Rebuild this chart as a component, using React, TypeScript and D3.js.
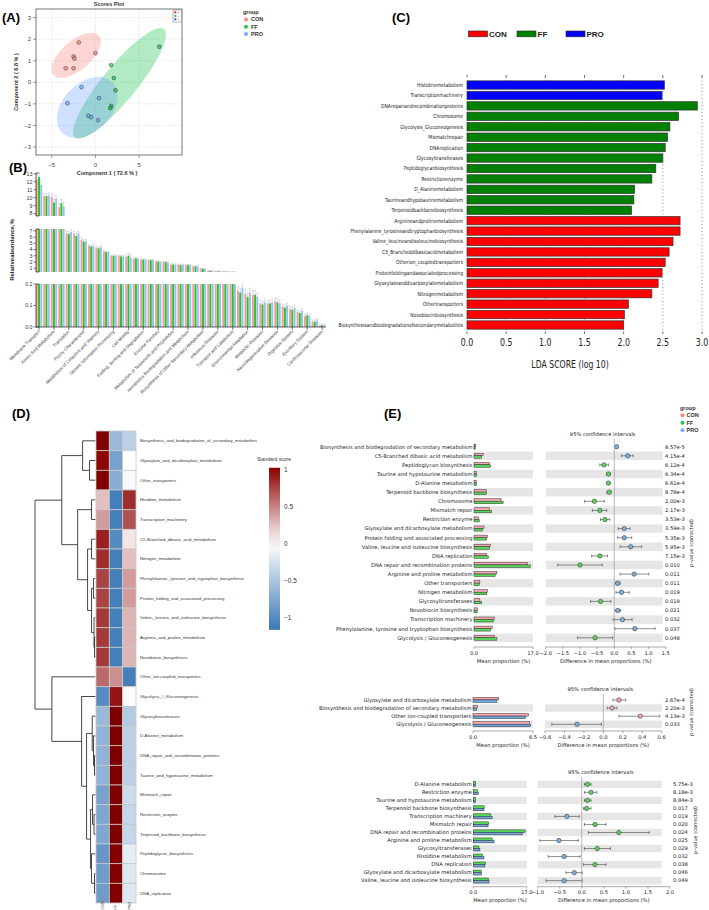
import * as d3 from 'd3';

const SANS = '"Liberation Sans", Arial, sans-serif';
const DV = '"DejaVu Sans", sans-serif';
const MINUS = (s: string) => s.replace('-', '\u2212');

// ---------- shared
const groups = ['CON', 'FF', 'PRO'];
const groupColors = ['#F8766D', '#00BA38', '#619CFF'];

// ---------- (A) PLS-DA scores
const pcaCon = [[-1.9, 1.85], [-2.5, 1.2], [-2.4, 1.1], [0, 1.35], [-3.4, 0.65], [-2.5, 0.65]];
const pcaFF = [[7.3, 1.65], [1.8, 0.8], [2.1, 0.2], [2.3, -0.37], [1.8, -1.1], [1.7, -1.2]];
const pcaPro = [[-1.6, -0.22], [-3.2, -0.97], [0.4, -0.73], [-0.8, -1.55], [-0.5, -1.62], [0.3, -1.75]];
// cx, cy, semi-major, semi-minor, angle (deg)
const pcaEllipses = [[-2.2, 1.25, 2.9, 0.8, 14], [2.75, -0.05, 5.8, 1.1, 24], [-0.95, -1.17, 3.5, 1.3, 10]];
const pcaTicksX = [-5, 0, 5];
const pcaTicksY = [-3, -2, -1, 0, 1, 2, 3];

// ---------- (B) KEGG level 2 relative abundance
const keggNames = [
  'Membrane Transport', 'Carbohydrate Metabolism', 'Amino Acid Metabolism', 'Replication and Repair',
  'Translation', 'Energy Metabolism', 'Poorly Characterized', 'Nucleotide Metabolism',
  'Metabolism of Cofactors and Vitamins', 'Cellular Processes and Signaling', 'Genetic Information Processing',
  'Lipid Metabolism', 'Cell Motility', 'Transcription', 'Folding, Sorting and Degradation',
  'Glycan Biosynthesis and Metabolism', 'Enzyme Families', 'Metabolism of Other Amino Acids',
  'Metabolism of Terpenoids and Polyketides', 'Signal Transduction', 'Xenobiotics Biodegradation and Metabolism',
  'Metabolism', 'Biosynthesis of Other Secondary Metabolites', 'Cell Growth and Death', 'Infectious Diseases',
  'Endocrine System', 'Transport and Catabolism', 'Cancers', 'Environmental Adaptation', 'Immune System',
  'Metabolic Diseases', 'Nervous System', 'Neurodegenerative Diseases', 'Signaling Molecules and Interaction',
  'Digestive System', 'Immune System Diseases', 'Excretory System', 'Circulatory System', 'Cardiovascular Diseases',
];
const bCon = [12.3, 10.2, 10.1, 8.8, 6.6, 6.5, 5.6, 4.6, 4.3, 3.7, 3.0, 3.0, 2.8, 2.5, 2.4, 2.3, 2.1, 2.0, 1.6, 1.6,
  1.5, 1.3, 0.95, 0.65, 0.55, 0.46, 0.43, 0.17, 0.155, 0.15, 0.11, 0.11, 0.12, 0.095, 0.085, 0.07, 0.05, 0.025, 0.008];
const bFF = [12.6, 10.2, 9.4, 9.3, 6.5, 6.2, 5.3, 4.5, 4.2, 3.6, 3.0, 2.9, 3.0, 2.6, 2.4, 2.3, 2.1, 2.0, 1.6, 1.5,
  1.5, 1.3, 0.9, 0.6, 0.5, 0.45, 0.42, 0.16, 0.14, 0.15, 0.105, 0.11, 0.115, 0.09, 0.08, 0.065, 0.055, 0.025, 0.008];
const bPro = [11.6, 10.3, 9.9, 8.9, 6.8, 6.6, 5.3, 4.6, 4.4, 3.6, 3.0, 2.9, 2.7, 2.5, 2.4, 2.3, 2.0, 1.9, 1.6, 1.6,
  1.5, 1.3, 0.9, 0.6, 0.55, 0.46, 0.43, 0.18, 0.16, 0.14, 0.115, 0.115, 0.11, 0.1, 0.09, 0.075, 0.05, 0.03, 0.008];
const bErr = [0.6, 0.3, 0.4, 0.5, 0.4, 0.4, 0.3, 0.25, 0.25, 0.15, 0.15, 0.15, 0.45, 0.12, 0.1, 0.1, 0.1, 0.15, 0.1, 0.1,
  0.1, 0.08, 0.06, 0.05, 0.04, 0.03, 0.03, 0.02, 0.02, 0.02, 0.015, 0.015, 0.015, 0.012, 0.012, 0.01, 0.01, 0.008, 0.005];
const bTicksTop = [8, 9, 10, 11, 12, 13];
const bTicksMid = [1, 2, 3, 4, 5, 6, 7];
const bTicksLow = [0, 0.1, 0.2];
const bColors = ['#f59c9c', '#2cc22c', '#96c0f2'];

// ---------- (C) LEfSe LDA
const ldaNames = [
  'Histidinemetabolism', 'Transcriptionmachinery', 'DNArepairandrecombinationproteins', 'Chromosome',
  'Glycolysis_Gluconeogenesis', 'Mismatchrepair', 'DNAreplication', 'Glycosyltransferases',
  'Peptidoglycanbiosynthesis', 'Restrictionenzyme', 'D_Alaninemetabolism', 'Taurineandhypotaurinemetabolism',
  'Terpenoidbackbonebiosynthesis', 'Arginineandprolinemetabolism', 'Phenylalanine_tyrosineandtryptophanbiosynthesis',
  'Valine_leucineandisoleucinebiosynthesis', 'C5_Brancheddibasicacidmetabolism', 'Otherion_coupledtransporters',
  'Proteinfoldingandassociatedprocessing', 'Glyoxylateanddicarboxylatemetabolism', 'Nitrogenmetabolism',
  'Othertransporters', 'Novobiocinbiosynthesis', 'Biosynthesisandbiodegradationofsecondarymetabolites',
];
const ldaScores = [2.52, 2.49, 2.94, 2.70, 2.59, 2.56, 2.53, 2.50, 2.41, 2.36, 2.14, 2.13, 2.10,
  2.72, 2.72, 2.63, 2.58, 2.53, 2.49, 2.44, 2.36, 2.06, 2.01, 2.00];
const ldaGroup = ['PRO', 'PRO', 'FF', 'FF', 'FF', 'FF', 'FF', 'FF', 'FF', 'FF', 'FF', 'FF', 'FF',
  'CON', 'CON', 'CON', 'CON', 'CON', 'CON', 'CON', 'CON', 'CON', 'CON', 'CON'];
const ldaColors: Record<string, string> = { CON: '#ff0000', FF: '#008000', PRO: '#0000ff' };
const ldaTicks = [0, 0.5, 1, 1.5, 2, 2.5, 3];

// ---------- (D) heatmap
const heatRows = [
  'Biosynthesis_and_biodegradation_of_secondary_metabolites', 'Glyoxylate_and_dicarboxylate_metabolism',
  'Other_transporters', 'Histidine_metabolism', 'Transcription_machinery', 'C5-Branched_dibasic_acid_metabolism',
  'Nitrogen_metabolism', 'Phenylalanine,_tyrosine_and_tryptophan_biosynthesis', 'Protein_folding_and_associated_processing',
  'Valine,_leucine_and_isoleucine_biosynthesis', 'Arginine_and_proline_metabolism', 'Novobiocin_biosynthesis',
  'Other_ion-coupled_transporters', 'Glycolysis_/_Gluconeogenesis', 'Glycosyltransferases', 'D-Alanine_metabolism',
  'DNA_repair_and_recombination_proteins', 'Taurine_and_hypotaurine_metabolism', 'Mismatch_repair',
  'Restriction_enzyme', 'Terpenoid_backbone_biosynthesis', 'Peptidoglycan_biosynthesis', 'Chromosome', 'DNA_replication',
];
const heatCon = [1.1, 1.0, 1.1, 0.25, 0.4, 0.9, 0.85, 0.75, 0.75, 0.8, 0.8, 0.8, 0.6, -1.0,
  -0.6, -0.65, -0.65, -0.65, -0.8, -0.75, -0.75, -0.9, -0.85, -0.85];
const heatFF = [-0.6, -0.8, -0.7, -1.1, -1.1, -1.0, -1.1, -1.1, -1.1, -1.1, -1.1, -1.1, 0.45, 0.95,
  1.15, 1.15, 1.15, 1.15, 1.15, 1.15, 1.15, 1.1, 1.1, 1.1];
const heatPro = [-0.4, 0.0, -0.05, 0.85, 0.7, 0.1, 0.25, 0.4, 0.4, 0.3, 0.3, 0.3, -1.1, 0.02,
  -0.45, -0.4, -0.4, -0.4, -0.3, -0.35, -0.35, -0.15, -0.2, -0.2];
// [height, left, right], leaves are row indices
type Tree = number | [number, Tree, Tree];
const dendro: Tree = [6.1,
  [3.4, [1.3, 0, [0.6, 1, 2]],
    [1.8, [0.4, 3, 4], [0.8, [0.4, 5, 6], [0.4, [0.2, 7, 8], [0.15, 9, [0.1, 10, 11]]]]]],
  [4.4, 12, [1.4, 13, [0.9, [0.33, 14, [0.2, 15, [0.1, 16, 17]]],
    [0.5, [0.3, 18, [0.15, 19, 20]], [0.4, 21, [0.1, 22, 23]]]]]]];
const heatLegendTicks = [1, 0.5, 0, -0.5, -1];

// ---------- (E) STAMP
const e1Rows = ['Biosynthesis and biodegradation of secondary metabolism', 'C5-Branched dibasic acid metabolism',
  'Peptidoglycan biosynthesis', 'Taurine and hypotaurine metabolism', 'D-Alanine metabolism',
  'Terpenoid backbone biosynthesis', 'Chromosome', 'Mismatch repair', 'Restriction enzyme',
  'Glyoxylate and dicarboxylate metabolism', 'Protein folding and associated processing',
  'Valine, leucine and isoleucine biosynthesis', 'DNA replication', 'DNA repair and recombination proteins',
  'Arginine and proline metabolism', 'Other transporters', 'Nitrogen metabolism', 'Glycosyltransferases',
  'Novobiocin biosynthesis', 'Transcription machinery', 'Phenylalanine, tyrosine and tryptophan biosynthesis',
  'Glycolysis / Gluconeogenesis'];
const e1Con = [0.5, 2.7, 4.4, 0.7, 0.7, 3.5, 7.8, 4.5, 1.3, 2.9, 3.9, 4.8, 3.6, 15.4, 6.6, 1.7, 3.9, 1.7, 1.0, 5.9, 5.3, 5.9];
const e1FF = [0.35, 2.2, 4.8, 0.75, 0.75, 3.6, 8.4, 5.0, 1.5, 2.5, 3.6, 4.5, 4.1, 16.2, 6.1, 1.5, 3.7, 2.2, 0.9, 5.6, 4.8, 6.6];
const e1Diff = [0.07, 0.39, -0.30, -0.17, -0.17, -0.15, -0.58, -0.42, -0.27, 0.29, 0.29, 0.48, -0.42, -1.0,
  0.58, 0.10, 0.21, -0.40, 0.10, 0.24, 0.60, -0.56];
const e1Lo = [0.04, 0.21, -0.42, -0.22, -0.21, -0.21, -0.87, -0.64, -0.40, 0.12, 0.10, 0.17, -0.66, -1.65,
  0.17, 0.03, 0.05, -0.69, 0.03, -0.03, 0.02, -1.07];
const e1Hi = [0.10, 0.55, -0.17, -0.12, -0.13, -0.09, -0.29, -0.22, -0.13, 0.46, 0.51, 0.80, -0.20, -0.35,
  1.01, 0.17, 0.44, -0.10, 0.18, 0.52, 1.19, -0.05];
const e1P = ['8.57e-5', '4.15e-4', '6.12e-4', '6.34e-4', '6.61e-4', '8.78e-4', '2.00e-3', '2.17e-3', '3.53e-3',
  '3.59e-3', '5.35e-3', '5.95e-3', '7.15e-3', '0.010', '0.011', '0.011', '0.019', '0.019', '0.021', '0.032', '0.037', '0.048'];
const e1Ticks = [-2, -1.5, -1, -0.5, 0, 0.5, 1, 1.5];

const e2Rows = ['Glyoxylate and dicarboxylate metabolism', 'Biosynthesis and biodegradation of secondary metabolism',
  'Other ion-coupled transporters', 'Glycolysis / Gluconeogenesis'];
const e2Con = [2.79, 0.47, 6.0, 6.1];
const e2Pro = [2.6, 0.4, 5.7, 6.25];
const e2Diff = [0.16, 0.09, 0.38, -0.27];
const e2Lo = [0.10, 0.04, 0.16, -0.53];
const e2Hi = [0.23, 0.14, 0.58, -0.02];
const e2P = ['2.67e-4', '2.20e-3', '4.13e-3', '0.033'];
const e2Ticks = [-0.6, -0.4, -0.2, 0, 0.2, 0.4, 0.6];

const e3Rows = ['D-Alanine metabolism', 'Restriction enzyme', 'Taurine and hypotaurine metabolism',
  'Terpenoid backbone biosynthesis', 'Transcription machinery', 'Mismatch repair', 'DNA repair and recombination proteins',
  'Arginine and proline metabolism', 'Glycosyltransferases', 'Histidine metabolism', 'DNA replication',
  'Glyoxylate and dicarboxylate metabolism', 'Valine, leucine and isoleucine biosynthesis'];
const e3FF = [0.75, 1.3, 0.75, 3.5, 5.6, 4.9, 16.5, 6.0, 1.8, 2.9, 3.9, 2.5, 4.8];
const e3Pro = [0.7, 1.6, 0.7, 3.4, 6.0, 4.7, 15.6, 6.6, 2.1, 3.4, 3.7, 2.6, 5.0];
const e3Diff = [0.13, 0.21, 0.13, 0.11, -0.34, 0.30, 0.84, -0.52, 0.35, -0.40, 0.30, -0.17, -0.40];
const e3Lo = [0.06, 0.06, 0.06, 0.04, -0.61, 0.06, 0.15, -0.95, 0.06, -0.76, 0.04, -0.36, -0.81];
const e3Hi = [0.21, 0.34, 0.21, 0.21, -0.06, 0.55, 1.53, -0.08, 0.65, -0.04, 0.55, 0.01, 0.01];
const e3P = ['5.75e-3', '8.18e-3', '8.84e-3', '0.017', '0.019', '0.020', '0.024', '0.025', '0.029', '0.032',
  '0.038', '0.046', '0.049'];
const e3Ticks = [-1, -0.5, 0, 0.5, 1, 1.5, 2];

const stampColors: Record<string, string> = { CON: '#f4a6b2', FF: '#58d658', PRO: '#6fa8dc' };

function PanelLabel({ x, y, t }: { x: number; y: number; t: string }) {
  return <text x={x} y={y} fontSize={13} fontWeight="bold" fontFamily={SANS}>{t}</text>;
}

function PanelA() {
  const x = d3.scaleLinear().domain([-6.8, 9.9]).range([36, 182]);
  const y = d3.scaleLinear().domain([-3.37, 3.4]).range([155, 9]);
  const ells = pcaEllipses.map(([cx, cy, a, b, deg]) => {
    const t = (deg * Math.PI) / 180;
    const pts = d3.range(0, 360, 4).map((k) => {
      const f = (k * Math.PI) / 180;
      return [
        x(cx + a * Math.cos(f) * Math.cos(t) - b * Math.sin(f) * Math.sin(t)),
        y(cy + a * Math.cos(f) * Math.sin(t) + b * Math.sin(f) * Math.cos(t)),
      ] as [number, number];
    });
    return d3.line()(pts) + 'Z';
  });
  const sets = [pcaCon, pcaFF, pcaPro];
  const innerCols = ['#e0204a', '#20c040', '#3050e0'];
  return (
    <g fontFamily={SANS}>
      <PanelLabel x={2} y={22} t="(A)" />
      <text x={109} y={6} fontSize={5.5} fontWeight="bold" textAnchor="middle" fill="#333">Scores Plot</text>
      <rect x={36} y={9} width={146} height={146} fill="#fff" />
      {pcaTicksX.map((t) => (
        <line key={'gx' + t} x1={x(t)} x2={x(t)} y1={9} y2={155} stroke="#ccc" strokeWidth={0.5} strokeDasharray="1.5,1.5" />
      ))}
      {pcaTicksY.map((t) => (
        <line key={'gy' + t} x1={36} x2={182} y1={y(t)} y2={y(t)} stroke="#ccc" strokeWidth={0.5} strokeDasharray="1.5,1.5" />
      ))}
      {ells.map((d, i) => (
        <path key={'e' + i} d={d} fill={groupColors[i]} fillOpacity={0.3} stroke="none" />
      ))}
      {sets.map((s, gi) =>
        s.map((p, i) => (
          <circle key={gi + '-' + i} cx={x(p[0])} cy={y(p[1])} r={1.9} fill={groupColors[gi]} fillOpacity={0.6} stroke="#333" strokeWidth={0.5} />
        )),
      )}
      <rect x={36} y={9} width={146} height={146} fill="none" stroke="#555" strokeWidth={0.8} />
      {pcaTicksX.map((t) => (
        <g key={'tx' + t}>
          <line x1={x(t)} x2={x(t)} y1={155} y2={158} stroke="#555" strokeWidth={0.6} />
          <text x={x(t)} y={167} fontSize={6} textAnchor="middle" fill="#444">{MINUS(String(t))}</text>
        </g>
      ))}
      {pcaTicksY.map((t) => (
        <g key={'ty' + t}>
          <line x1={33} x2={36} y1={y(t)} y2={y(t)} stroke="#555" strokeWidth={0.6} />
          <text x={31} y={y(t)} dy="0.35em" fontSize={6} textAnchor="end" fill="#444">{MINUS(String(t))}</text>
        </g>
      ))}
      <text x={107} y={175} fontSize={5.5} fontWeight="bold" textAnchor="middle" fill="#333">Component 1 ( 72.6 % )</text>
      <text transform="translate(18,82) rotate(-90)" fontSize={5.5} fontWeight="bold" textAnchor="middle" fill="#333">Component 2 ( 6.8 % )</text>
      <rect x={173} y={10} width={8.5} height={12} fill="#fff" stroke="#555" strokeWidth={0.4} />
      {groups.map((g, i) => (
        <g key={'il' + g}>
          <rect x={174.3} y={11.3 + i * 3.5} width={2} height={2} fill={innerCols[i]} />
          <text x={177.5} y={13.2 + i * 3.5} fontSize={2.4} fill="#333">{g[0]}</text>
        </g>
      ))}
      <text x={243} y={14} fontSize={5.5} fontWeight="bold" fill="#333">group</text>
      {groups.map((g, i) => (
        <g key={'lg' + g}>
          <circle cx={246} cy={19.5 + i * 7.3} r={2.1} fill={groupColors[i]} fillOpacity={0.8} />
          <text x={251} y={21.3 + i * 7.3} fontSize={5.5} fontWeight="bold" fill="#333">{g}</text>
        </g>
      ))}
    </g>
  );
}

function PanelB() {
  const x = d3.scaleBand().domain(keggNames).range([35.3, 325.85]);
  const sub = d3.scaleBand().domain(groups).range([0.55, 6.95]).paddingInner(0.12);
  const bw = sub.bandwidth();
  const segs = [
    { y: d3.scaleLinear().domain([7.7, 13.1]).range([216, 173]), ticks: bTicksTop, fmt: d3.format('d') },
    { y: d3.scaleLinear().domain([0.4, 7.3]).range([272, 229]), ticks: bTicksMid, fmt: d3.format('d') },
    { y: d3.scaleLinear().domain([0, 0.2]).range([327, 284]), ticks: bTicksLow, fmt: d3.format('.1f') },
  ];
  const series = [bCon, bFF, bPro];
  const marks: JSX.Element[] = [];
  segs.forEach((s, si) => {
    const [lo, hi] = s.y.domain();
    keggNames.forEach((name, i) => {
      series.forEach((vals, gi) => {
        const v = vals[i];
        if (v <= lo) return;
        const bx = (x(name) as number) + (sub(groups[gi]) as number);
        const top = s.y(Math.min(v, hi));
        marks.push(<rect key={`b${si}-${i}-${gi}`} x={bx} y={top} width={bw} height={s.y(lo) - top} fill={bColors[gi]} />);
        if (v < hi) {
          const e = s.y(Math.min(v + bErr[i], hi));
          marks.push(
            <g key={`e${si}-${i}-${gi}`} stroke="#b8b8b8" strokeWidth={0.5}>
              <line x1={bx + bw / 2} x2={bx + bw / 2} y1={top} y2={e} />
              <line x1={bx} x2={bx + bw} y1={e} y2={e} />
            </g>,
          );
        }
      });
    });
  });
  return (
    <g fontFamily={SANS}>
      <PanelLabel x={9} y={172} t="(B)" />
      {marks}
      {segs.map((s, si) => {
        const [r0, r1] = s.y.range();
        return (
          <g key={'ax' + si}>
            <line x1={36} x2={36} y1={r0} y2={r1} stroke="#222" strokeWidth={0.7} />
            <line x1={36} x2={39} y1={r0} y2={r0} stroke="#222" strokeWidth={0.7} />
            <line x1={36} x2={39} y1={r1} y2={r1} stroke="#222" strokeWidth={0.7} />
            {s.ticks.map((t) => (
              <g key={t}>
                <line x1={33.5} x2={36} y1={s.y(t)} y2={s.y(t)} stroke="#222" strokeWidth={0.6} />
                <text x={32.5} y={s.y(t)} dy="0.35em" fontSize={5.3} textAnchor="end" fill="#333">{s.fmt(t)}</text>
              </g>
            ))}
          </g>
        );
      })}
      <line x1={36} x2={326} y1={327} y2={327} stroke="#222" strokeWidth={0.7} />
      {keggNames.map((n, i) =>
        i % 2 === 0 ? (
          <g key={'xl' + i}>
            <line x1={(x(n) as number) + x.bandwidth() / 2} x2={(x(n) as number) + x.bandwidth() / 2} y1={327} y2={330} stroke="#222" strokeWidth={0.6} />
            <text transform={`translate(${(x(n) as number) + x.bandwidth() / 2 + 1},${332}) rotate(-45)`} fontSize={4.4} textAnchor="end" fill="#333">{n}</text>
          </g>
        ) : null,
      )}
      <text transform="translate(14,250) rotate(-90)" fontSize={6} fontWeight="bold" textAnchor="middle" fill="#222">Relativeabundance,%</text>
    </g>
  );
}

function PanelC() {
  const x = d3.scaleLinear().domain([0, 3]).range([467, 702]);
  const y = d3.scaleBand().domain(ldaNames).range([79.8, 330.2]).paddingInner(0.2).paddingOuter(0.1);
  return (
    <g>
      <PanelLabel x={392} y={22} t="(C)" />
      {['CON', 'FF', 'PRO'].map((g, i) => {
        const lx = [468.5, 517, 566][i];
        return (
          <g key={'cl' + g} fontFamily={SANS}>
            <rect x={lx} y={31} width={19} height={5.8} fill={ldaColors[g]} stroke="#222" strokeWidth={0.6} />
            <text x={lx + 20.5} y={37} fontSize={8} fontWeight="bold" fill="#222">{g}</text>
          </g>
        );
      })}
      {ldaTicks.map((t) => (
        <g key={'ct' + t}>
          {t > 0 && <line x1={x(t)} x2={x(t)} y1={77} y2={332} stroke="#444" strokeWidth={0.6} strokeDasharray="1,2.5" />}
          <line x1={x(t)} x2={x(t)} y1={75} y2={77.5} stroke="#333" strokeWidth={0.7} />
          <line x1={x(t)} x2={x(t)} y1={331.5} y2={334} stroke="#333" strokeWidth={0.7} />
          <text transform={`translate(${x(t)},346) scale(0.72,1)`} fontSize={11} textAnchor="middle" fontFamily={DV} fill="#222">{d3.format('.1f')(t)}</text>
        </g>
      ))}
      {ldaNames.map((n, i) => (
        <g key={'cb' + i}>
          <rect x={x(0)} y={y(n)} width={x(ldaScores[i]) - x(0)} height={y.bandwidth()} fill={ldaColors[ldaGroup[i]]} stroke="#333" strokeWidth={0.7} />
          <text transform={`translate(463,${(y(n) as number) + y.bandwidth() / 2}) scale(0.8,1)`} dy="0.35em" fontSize={5.6} textAnchor="end" fontFamily={DV} fill="#222">{n}</text>
        </g>
      ))}
      <text transform="translate(570,367.5) scale(0.74,1)" fontSize={10.5} textAnchor="middle" fontFamily={DV} fill="#222">LDA SCORE (log 10)</text>
    </g>
  );
}

function PanelD() {
  const y = d3.scaleBand().domain(heatRows).range([431, 903]);
  const x = d3.scaleBand().domain(groups).range([96, 136]);
  const color = d3.scaleLinear<string>().domain([-1.16, 0, 1.03]).range(['#3b78b5', '#ffffff', '#8b0000']);
  const hx = d3.scaleLinear().domain([0, 6.1]).range([95.5, 35]);
  const cy = (i: number) => (y(heatRows[i]) as number) + y.bandwidth() / 2;
  const lines: JSX.Element[] = [];
  let k = 0;
  const walk = (t: Tree): { yy: number; h: number } => {
    if (typeof t === 'number') return { yy: cy(t), h: 0 };
    const [h, l, r] = t;
    const a = walk(l);
    const b = walk(r);
    const xx = hx(h);
    lines.push(<path key={'d' + k++} d={`M${hx(a.h)},${a.yy}H${xx}V${b.yy}H${hx(b.h)}`} fill="none" stroke="#333" strokeWidth={0.9} />);
    return { yy: (a.yy + b.yy) / 2, h };
  };
  walk(dendro);
  const cols = [heatCon, heatFF, heatPro];
  const ly = d3.scaleLinear().domain([-1, 1]).range([618, 470]);
  const stops = d3.range(0, 1.0001, 0.1);
  return (
    <g fontFamily={SANS}>
      <PanelLabel x={12} y={418} t="(D)" />
      {lines}
      {heatRows.map((r, i) =>
        cols.map((c, ci) => (
          <rect key={r + ci} x={x(groups[ci])} y={y(r)} width={x.bandwidth()} height={y.bandwidth()} fill={color(c[i])} stroke="#c8c8c8" strokeWidth={0.8} />
        )),
      )}
      {heatRows.map((r, i) => (
        <text key={'hl' + i} x={140} y={cy(i)} dy="0.35em" fontSize={4.3} fill="#333">{r}</text>
      ))}
      {groups.map((g) => (
        <text key={'hc' + g} transform={`translate(${(x(g) as number) + x.bandwidth() / 2 + 1.3},909.5) rotate(-90)`} fontSize={3.6} fill="#333">{g}</text>
      ))}
      <defs>
        <linearGradient id="hmgrad" x1="0" y1="1" x2="0" y2="0">
          {stops.map((s) => (
            <stop key={s} offset={s} stopColor={color(-1.16 + s * (1.03 + 1.16))} />
          ))}
        </linearGradient>
      </defs>
      <text x={257} y={461} fontSize={5} fill="#333">Standard score</text>
      <rect x={269} y={ly(1.03)} width={11} height={ly(-1.16) - ly(1.03)} fill="url(#hmgrad)" />
      {heatLegendTicks.map((t) => (
        <text key={'ht' + t} x={284} y={ly(t)} dy="0.35em" fontSize={6.5} fill="#333">{MINUS(String(t))}</text>
      ))}
    </g>
  );
}

type StampProps = {
  rows: string[]; a: number[]; b: number[]; colA: string; colB: string;
  diff: number[]; lo: number[]; hi: number[]; pv: string[]; posCol: string; negCol: string;
  y0: number; step: number; lx0: number; lx1: number; lmax: number; lmaxLabel: string;
  rdom: [number, number]; rx0: number; rx1: number; bandEnd: number; ticks: number[];
  axisY: number; pvX: number; ciY: number; pTitleX: number; pTitleY: number;
};

function Stamp(p: StampProps) {
  const n = p.rows.length;
  const yb = d3.scaleBand().domain(p.rows).range([p.y0 - p.step / 2, p.y0 + (n - 0.5) * p.step]);
  const xl = d3.scaleLinear().domain([0, p.lmax]).range([p.lx0, p.lx1]);
  const xr = d3.scaleLinear().domain(p.rdom).range([p.rx0, p.rx1]);
  const fmt = d3.format('.1f');
  return (
    <g fontFamily={DV} fill="#222">
      {p.rows.map((r, i) => {
        const top = yb(r) as number;
        const c = top + p.step / 2;
        const shade = (n - 1 - i) % 2 === 0;
        const col = p.diff[i] >= 0 ? p.posCol : p.negCol;
        return (
          <g key={r + i}>
            {shade && <rect x={p.lx0} y={top + 0.3} width={p.lx1 - p.lx0} height={p.step - 0.6} fill="#e6e6e6" />}
            {shade && <rect x={p.rx0} y={top + 0.3} width={p.bandEnd - p.rx0} height={p.step - 0.6} fill="#e6e6e6" />}
            <rect x={xl(0)} y={c - 2.6} width={xl(p.a[i]) - xl(0)} height={2.5} fill={p.colA} stroke="#222" strokeWidth={0.45} />
            <rect x={xl(0)} y={c - 0.1} width={xl(p.b[i]) - xl(0)} height={2.5} fill={p.colB} stroke="#222" strokeWidth={0.45} />
            <text x={p.lx0 - 1.5} y={c} dy="0.35em" fontSize={5.2} textAnchor="end">{r}</text>
            <g stroke="#333" strokeWidth={0.55}>
              <line x1={xr(p.lo[i])} x2={xr(p.hi[i])} y1={c} y2={c} />
              <line x1={xr(p.lo[i])} x2={xr(p.lo[i])} y1={c - 1.5} y2={c + 1.5} />
              <line x1={xr(p.hi[i])} x2={xr(p.hi[i])} y1={c - 1.5} y2={c + 1.5} />
            </g>
            <circle cx={xr(p.diff[i])} cy={c} r={2.2} fill={col} stroke="#333" strokeWidth={0.55} />
            <text x={p.pvX} y={c} dy="0.35em" fontSize={5.2}>{p.pv[i]}</text>
          </g>
        );
      })}
      <line x1={xr(0)} x2={xr(0)} y1={p.ciY + 3} y2={p.axisY} stroke="#9a9a9a" strokeWidth={0.7} />
      <text x={(p.rx0 + p.rx1) / 2 - 3} y={p.ciY} fontSize={5.2} textAnchor="middle">95% confidence intervals</text>
      <line x1={p.lx0} x2={p.lx1} y1={p.axisY} y2={p.axisY} stroke="#555" strokeWidth={0.5} />
      {[0, p.lmax].map((t) => (
        <g key={'l' + t}>
          <line x1={xl(t)} x2={xl(t)} y1={p.axisY} y2={p.axisY + 2} stroke="#555" strokeWidth={0.5} />
          <text x={xl(t)} y={p.axisY + 7.5} fontSize={5.2} textAnchor="middle">{t === 0 ? '0.0' : p.lmaxLabel}</text>
        </g>
      ))}
      <text x={(p.lx0 + p.lx1) / 2} y={p.axisY + 15.5} fontSize={5.2} textAnchor="middle">Mean proportion (%)</text>
      <line x1={p.rx0} x2={p.rx1} y1={p.axisY} y2={p.axisY} stroke="#555" strokeWidth={0.5} />
      {p.ticks.map((t) => (
        <g key={'r' + t}>
          <line x1={xr(t)} x2={xr(t)} y1={p.axisY} y2={p.axisY + 2} stroke="#555" strokeWidth={0.5} />
          <text x={xr(t)} y={p.axisY + 7.5} fontSize={5.2} textAnchor="middle">{MINUS(fmt(t))}</text>
        </g>
      ))}
      <text x={(p.rx0 + p.rx1) / 2} y={p.axisY + 15.5} fontSize={5.2} textAnchor="middle">Difference in mean proportions (%)</text>
      <text transform={`translate(${p.pTitleX},${p.pTitleY}) rotate(-90)`} fontSize={5} textAnchor="middle">p-value (corrected)</text>
    </g>
  );
}

function PanelE() {
  return (
    <g>
      <PanelLabel x={384} y={418} t="(E)" />
      <g fontFamily={SANS}>
        <text x={680} y={410} fontSize={5.5} fontWeight="bold" fill="#333">group</text>
        {groups.map((g, i) => (
          <g key={'eg' + g}>
            <circle cx={682.5} cy={415.3 + i * 7.5} r={2} fill={groupColors[i]} fillOpacity={0.85} />
            <text x={686.5} y={417.3 + i * 7.5} fontSize={5.5} fontWeight="bold" fill="#333">{g}</text>
          </g>
        ))}
      </g>
      <Stamp rows={e1Rows} a={e1Con} b={e1FF} colA={stampColors.CON} colB={stampColors.FF} diff={e1Diff} lo={e1Lo} hi={e1Hi}
        pv={e1P} posCol="#7eb0de" negCol="#5ad65a" y0={446.7} step={9.1} lx0={474} lx1={533} lmax={17} lmaxLabel="17.0"
        rdom={[-2, 1.5]} rx0={545.7} rx1={665.7} bandEnd={662.7} ticks={e1Ticks} axisY={647} pvX={665} ciY={436}
        pTitleX={693} pTitleY={543} />
      <Stamp rows={e2Rows} a={e2Con} b={e2Pro} colA={stampColors.CON} colB={stampColors.PRO} diff={e2Diff} lo={e2Lo} hi={e2Hi}
        pv={e2P} posCol="#f4a6b2" negCol="#7eb0de" y0={700} step={8.1} lx0={473} lx1={533} lmax={6.5} lmaxLabel="6.5"
        rdom={[-0.6, 0.6]} rx0={545} rx1={661.7} bandEnd={661.7} ticks={e2Ticks} axisY={731} pvX={665} ciY={691}
        pTitleX={693} pTitleY={712} />
      <Stamp rows={e3Rows} a={e3FF} b={e3Pro} colA={stampColors.FF} colB={stampColors.PRO} diff={e3Diff} lo={e3Lo} hi={e3Hi}
        pv={e3P} posCol="#5ad65a" negCol="#7eb0de" y0={784.3} step={8.03} lx0={473.3} lx1={526.7} lmax={17} lmaxLabel="17.0"
        rdom={[-1, 2]} rx0={537.7} rx1={670} bandEnd={661.7} ticks={e3Ticks} axisY={886.7} pvX={673} ciY={774}
        pTitleX={697} pTitleY={830} />
    </g>
  );
}

export default function App() {
  return (
    <svg width={709} height={910} style={{ position: 'absolute', left: 0, top: 0, display: 'block' }}>
      <rect width={709} height={910} fill="#fff" />
      <PanelA />
      <PanelB />
      <PanelC />
      <PanelD />
      <PanelE />
    </svg>
  );
}
